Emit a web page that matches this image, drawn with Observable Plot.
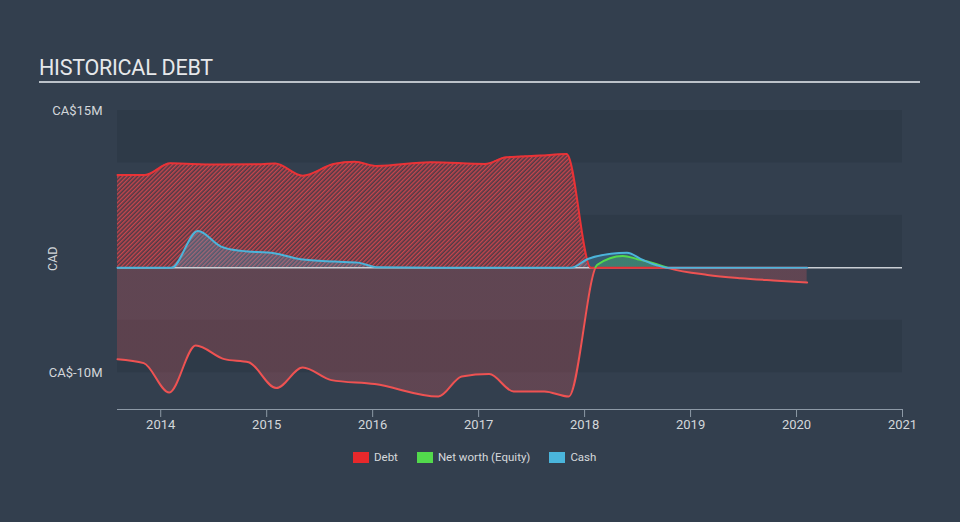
<!DOCTYPE html>
<html>
<head>
<meta charset="utf-8">
<script src="https://cdn.jsdelivr.net/npm/d3@7"></script>
<script src="https://cdn.jsdelivr.net/npm/@observablehq/plot@0.6"></script>
<style>
  html, body { margin: 0; padding: 0; }
  body { width: 960px; height: 522px; background: #333f4e; font-family: Roboto, "Noto Sans", sans-serif; overflow: hidden; position: relative; }
  #title { position: absolute; left: 39px; top: 57px; font-size: 21.5px; line-height: 1; color: #e6e8ea; letter-spacing: -0.25px; white-space: nowrap; }
  #rule { position: absolute; left: 39px; top: 81px; width: 881px; height: 2px; background: #bcc2c9; }
  #chart { position: absolute; left: 0; top: 90px; }
  #chart text { fill: #d3d7db; }
  #legend { position: absolute; left: 353px; top: 450px; display: flex; align-items: center; font-size: 11.5px; color: #d6d9dc; }
  #legend .sw { width: 16px; height: 11px; margin-right: 5px; }
  #legend .it { display: flex; align-items: center; margin-right: 19px; }
</style>
</head>
<body>
<div id="title">HISTORICAL DEBT</div>
<div id="rule"></div>
<div id="chart"></div>
<div id="legend"></div>
<script>
// ---- data (CA$ millions, decimal years) ----
const debtYears   = [2013.592, 2013.85, 2014.09, 2014.5, 2014.95, 2015.08, 2015.34, 2015.63, 2015.83, 2016.04, 2016.55, 2017.06, 2017.26, 2017.58, 2017.83, 2018.06, 2018.5, 2019.0, 2019.5, 2020.1];
const debtValues  = [8.86, 8.86, 9.97, 9.85, 9.88, 9.95, 8.79, 9.9, 10.12, 9.71, 10.07, 9.9, 10.54, 10.7, 10.86, 0, 0, 0, 0, 0];

const equityYears  = [2013.592, 2013.84, 2014.08, 2014.33, 2014.6, 2014.83, 2015.09, 2015.34, 2015.61, 2016.02, 2016.62, 2016.84, 2017.1, 2017.33, 2017.62, 2017.85, 2018.12, 2018.36, 2018.5, 2018.65, 2018.8, 2019.16, 2019.47, 2019.78, 2020.1];
const equityValues = [-8.7, -9.08, -11.88, -7.4, -8.7, -9.0, -11.46, -9.5, -10.7, -11.08, -12.26, -10.35, -10.12, -11.78, -11.78, -12.26, 0.3, 1.14, 0.83, 0.45, -0.05, -0.67, -0.98, -1.2, -1.4];

const cashYears  = [2013.592, 2014.1, 2014.35, 2014.57, 2014.76, 2015.07, 2015.32, 2015.64, 2015.86, 2016.05, 2016.6, 2017.2, 2017.87, 2018.03, 2018.25, 2018.4, 2018.55, 2018.68, 2018.8, 2019.3, 2020.1];
const cashValues = [0, 0, 3.52, 2.03, 1.62, 1.4, 0.83, 0.6, 0.5, 0.05, 0, 0, 0, 0.85, 1.35, 1.45, 0.75, 0.25, 0, 0, 0];

const xTicks = [2014, 2015, 2016, 2017, 2018, 2019, 2020, 2021];
const yTicks = [15, -10];
const bandTops = [15, 5, -5];
const bandSize = 5;
const xDomain = [2013.592, 2021];
const yDomain = [-13.5, 15];

const seriesNames = ["Debt", "Net worth (Equity)", "Cash"];
const seriesColors = ["#e8282b", "#52d94c", "#4ab5dc"];

// ---- build tables ----
const zip = (xs, vs) => xs.map((t, i) => ({t, v: vs[i]}));
const debt = zip(debtYears, debtValues);
const equity = zip(equityYears, equityValues);
const cash = zip(cashYears, cashValues);

const W = 960, H = 350, mT = 20, mB = 31, mL = 117, mR = 58;

const plot = Plot.plot({
  width: W, height: H,
  marginTop: mT, marginBottom: mB, marginLeft: mL, marginRight: mR,
  style: {background: "transparent", color: "#8d99a6", fontFamily: "Roboto, sans-serif", fontSize: "13px", overflow: "visible"},
  x: {domain: xDomain, ticks: xTicks, tickFormat: d => String(d), tickSize: 8, tickPadding: 2, label: null, line: true},
  y: {domain: yDomain, ticks: yTicks, tickFormat: d => `CA$${d}M`, tickSize: 0, tickPadding: 15, label: null},
  marks: [
    Plot.rect(bandTops, {y1: d => d, y2: d => d - bandSize, fill: "#2e3a48"}),
    Plot.areaY(equity, {x: "t", y1: 0, y2: "v", curve: "monotone-x", fill: "url(#eqFill)"}),
    Plot.areaY(debt, {x: "t", y1: 0, y2: "v", curve: "monotone-x", fill: "url(#hatch)"}),
    Plot.areaY(cash, {x: "t", y1: 0, y2: "v", curve: "monotone-x", fill: "#4ab5dc", fillOpacity: 0.28}),
    Plot.ruleY([0], {stroke: "#c9ced4", strokeWidth: 1.5}),
    Plot.line(debt, {x: "t", y: "v", curve: "monotone-x", stroke: "#ea3236", strokeWidth: 2}),
    Plot.line(equity, {x: "t", y: "v", curve: "monotone-x", stroke: "url(#eqLine)", strokeWidth: 2}),
    Plot.line(cash, {x: "t", y: "v", curve: "monotone-x", stroke: "#4cb4da", strokeWidth: 2}),
    Plot.text(["CAD"], {frameAnchor: "left", dx: -65, dy: 11, rotate: -90, text: d => d, fontSize: 12.5})
  ]
});

// zero position for sign-colored equity
let z0;
try { z0 = plot.scale("y").apply(0); } catch (e) { z0 = undefined; }
if (!(z0 >= 0)) z0 = mT + (yDomain[1] - 0) / (yDomain[1] - yDomain[0]) * (H - mT - mB);
const f = (z0 / H).toFixed(4);

const ns = "http://www.w3.org/2000/svg";
const defs = document.createElementNS(ns, "defs");
defs.innerHTML = `
  <pattern id="hatch" patternUnits="userSpaceOnUse" width="3" height="3" patternTransform="rotate(45)">
    <rect width="3" height="3" fill="#503a46"/>
    <rect width="1.4" height="3" fill="#c8464d"/>
  </pattern>
  <linearGradient id="eqLine" gradientUnits="userSpaceOnUse" x1="0" y1="0" x2="0" y2="${H}">
    <stop offset="${f}" stop-color="#53d94b"/>
    <stop offset="${f}" stop-color="#ef5252"/>
  </linearGradient>
  <linearGradient id="eqFill" gradientUnits="userSpaceOnUse" x1="0" y1="0" x2="0" y2="${H}">
    <stop offset="${f}" stop-color="#52d94c" stop-opacity="0.3"/>
    <stop offset="${f}" stop-color="#d9575e" stop-opacity="0.27"/>
  </linearGradient>`;
plot.insertBefore(defs, plot.firstChild);
document.getElementById("chart").appendChild(plot);

// legend
const lg = document.getElementById("legend");
seriesNames.forEach((n, i) => {
  const it = document.createElement("div");
  it.className = "it";
  const sw = document.createElement("div");
  sw.className = "sw";
  sw.style.background = seriesColors[i];
  const tx = document.createElement("span");
  tx.textContent = n;
  it.appendChild(sw); it.appendChild(tx);
  lg.appendChild(it);
});
</script>
</body>
</html>
